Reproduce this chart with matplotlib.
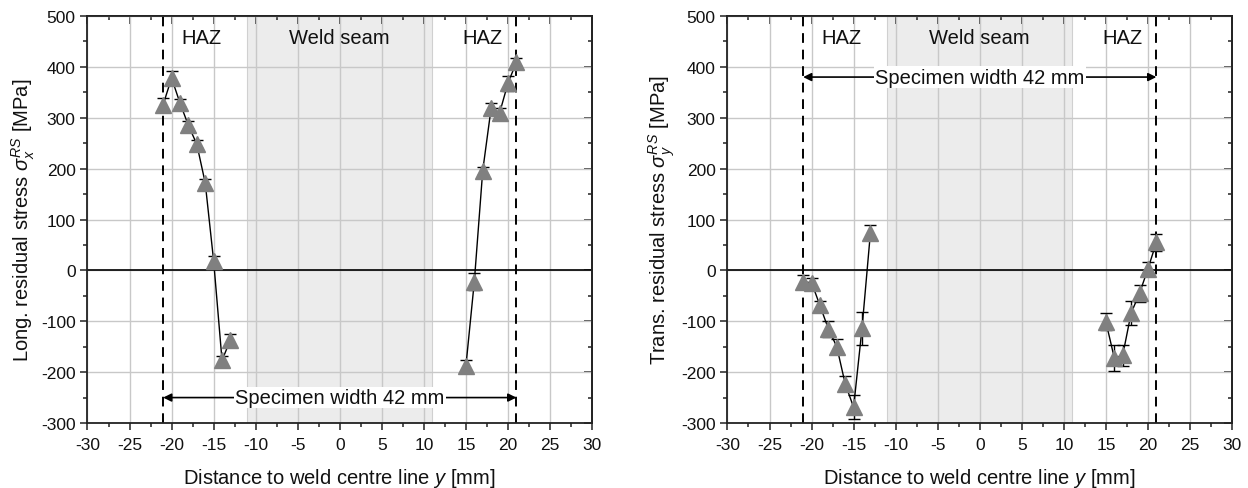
import matplotlib
matplotlib.use("Agg")
import matplotlib.pyplot as plt
import numpy as np

plt.rcParams['font.family'] = ['Liberation Sans', 'DejaVu Sans']
plt.rcParams['mathtext.fontset'] = 'custom'
plt.rcParams['mathtext.rm'] = 'Liberation Sans'
plt.rcParams['mathtext.it'] = 'Liberation Sans:italic'
plt.rcParams['axes.unicode_minus'] = False

# ---- data ----
x_long_left = [-21, -20, -19, -18, -17, -16, -15, -14, -13]
s_long_left = [326, 378, 329, 285, 248, 172, 19, -177, -136]
e_long_left = [12, 13, 8, 8, 8, 8, 10, 8, 10]
x_long_right = [15, 16, 17, 18, 19, 20, 21]
s_long_right = [-188, -22, 196, 319, 309, 368, 409]
e_long_right = [12, 16, 8, 10, 10, 15, 8]

x_trans_left = [-21, -20, -19, -18, -17, -16, -15, -14, -13]
s_trans_left = [-23, -24, -69, -115, -150, -223, -269, -114, 74]
e_trans_left = [13, 10, 8, 15, 15, 15, 24, 32, 15]
x_trans_right = [15, 16, 17, 18, 19, 20, 21]
s_trans_right = [-101, -172, -167, -84, -45, 3, 55]
e_trans_right = [17, 26, 21, 23, 17, 13, 16]

xticks = [-30, -25, -20, -15, -10, -5, 0, 5, 10, 15, 20, 25, 30]
yticks = [-300, -200, -100, 0, 100, 200, 300, 400, 500]
weld_seam = (-11, 11)
specimen_edges = (-21, 21)

fig = plt.figure(figsize=(12.48, 4.89), dpi=100)
ax1 = fig.add_axes([0.0701, 0.1329, 0.4043, 0.8323])
ax2 = fig.add_axes([0.5829, 0.1329, 0.4043, 0.8323])

def setup(ax, ylabel, arrow_y):
    ax.set_xlim(-30, 30)
    ax.set_ylim(-300, 500)
    ax.axvspan(weld_seam[0], weld_seam[1], facecolor='#ececec', edgecolor='#d0d0d0', lw=0.8, zorder=0)
    ax.set_xticks(xticks)
    ax.set_yticks(yticks)
    ax.set_xticks(np.arange(-27.5, 30, 5), minor=True)
    ax.set_yticks(np.arange(-250, 500, 100), minor=True)
    ax.grid(True, which='major', color='#c8c8c8', lw=1.0, zorder=0.5)
    ax.set_axisbelow(True)
    ax.tick_params(which='both', labelsize=12.5, width=1.1, color='#222222', labelcolor='#111111')
    ax.tick_params(which='major', length=5)
    ax.tick_params(which='minor', length=3)
    ax.tick_params(which='both', direction='out')
    ax.tick_params(axis='x', which='major', pad=5)
    # inward ticks on top and right
    sec_x = ax.secondary_xaxis('top')
    sec_x.set_xticks(xticks)
    sec_x.set_xticks(np.arange(-27.5, 30, 5), minor=True)
    sec_x.tick_params(which='both', direction='in', labeltop=False, width=1.1, color='#222222')
    sec_x.tick_params(which='major', length=6)
    sec_x.tick_params(which='minor', length=3)
    sec_y = ax.secondary_yaxis('right')
    sec_y.set_yticks(yticks)
    sec_y.set_yticks(np.arange(-250, 500, 100), minor=True)
    sec_y.tick_params(which='both', direction='in', labelright=False, width=1.1, color='#222222')
    sec_y.tick_params(which='major', length=6)
    sec_y.tick_params(which='minor', length=3)
    for sp in list(ax.spines.values()) + list(sec_x.spines.values()) + list(sec_y.spines.values()):
        sp.set_linewidth(1.3)
        sp.set_color('#222222')
    ax.axhline(0, color='black', lw=1.2, zorder=1)
    for xv in specimen_edges:
        ax.axvline(xv, color='black', lw=1.4, ls=(0, (5, 3.5)), zorder=2)
    ax.text(-16.5, 457, 'HAZ', ha='center', va='center', fontsize=14.5, color='#111111')
    ax.text(0, 457, 'Weld seam', ha='center', va='center', fontsize=14.5, color='#111111')
    ax.text(17, 457, 'HAZ', ha='center', va='center', fontsize=14.5, color='#111111')
    ax.annotate('', xy=(specimen_edges[0], arrow_y), xytext=(specimen_edges[1], arrow_y),
                arrowprops=dict(arrowstyle='<|-|>', color='black', lw=1.2,
                                mutation_scale=12, shrinkA=0, shrinkB=0), zorder=3)
    ax.text(0, arrow_y, 'Specimen width 42 mm', ha='center', va='center', fontsize=14.5,
            color='#111111', bbox=dict(facecolor='white', edgecolor='none', pad=1), zorder=4)
    ax.set_xlabel('Distance to weld centre line $\\mathit{y}$ [mm]', fontsize=14.5, labelpad=10,
                  color='#111111')
    ax.set_ylabel(ylabel, fontsize=14.5, labelpad=3, color='#111111')

def series(ax, x, y, e):
    ax.errorbar(x, y, yerr=e, fmt='-', color='black', lw=1.0, elinewidth=1.0,
                capsize=4, capthick=1.0, zorder=5)
    ax.plot(x, y, ls='none', marker='^', ms=11, color='#808080', mec='#808080', zorder=6)

setup(ax1, 'Long. residual stress $\\sigma_x^{RS}$ [MPa]', -250)
setup(ax2, 'Trans. residual stress $\\sigma_y^{RS}$ [MPa]', 380)
series(ax1, x_long_left, s_long_left, e_long_left)
series(ax1, x_long_right, s_long_right, e_long_right)
series(ax2, x_trans_left, s_trans_left, e_trans_left)
series(ax2, x_trans_right, s_trans_right, e_trans_right)

fig.savefig('out.png', dpi=100)
